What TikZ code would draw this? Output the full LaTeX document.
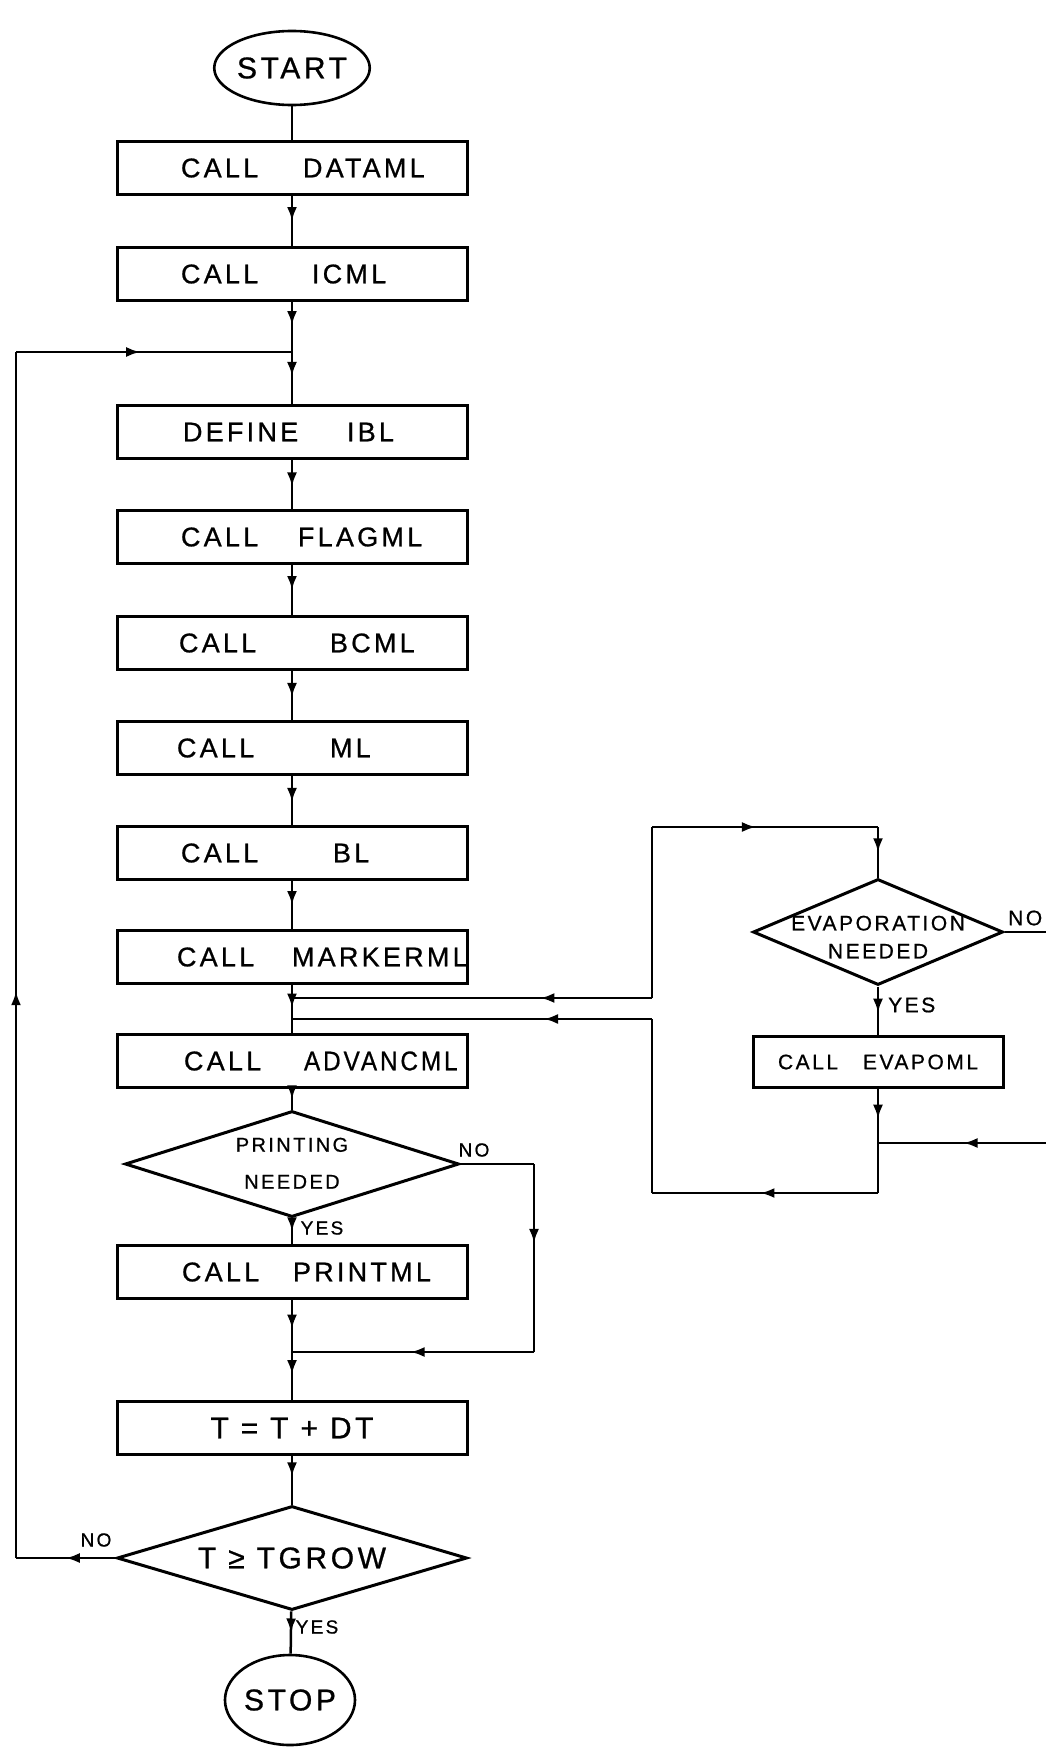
\documentclass[tikz,border=0pt]{standalone}
\usepackage{graphicx}
\usepackage{fontspec}
\setmainfont{Liberation Sans}[LetterSpace=12,FakeBold=0.8]
\usetikzlibrary{shapes.geometric,arrows.meta,decorations.markings}

\newcommand\zb[2][0pt]{\makebox[0pt]{\smash{\raisebox{#1}{\begin{tabular}{@{}c@{}}#2\end{tabular}}}}}
\newcommand\tw[4]{\makebox[0pt][l]{\hspace{#2}#1}\makebox[0pt][l]{\hspace{#4}#3}}

\tikzset{
  procbox/.style={draw, line width=3pt, minimum width=350pt, minimum height=53pt, inner sep=0pt, font=\fontsize{27}{32}\selectfont},
  decision/.style={draw, diamond, line width=3pt, inner sep=0pt},
  termnode/.style={draw, ellipse, line width=2.6pt, inner sep=0pt, font=\fontsize{30}{36}\selectfont},
  wire/.style={line width=2.5pt},
  lbl/.style={font=\fontsize{19}{21}\selectfont, inner sep=0pt},
  arr/.style={postaction={decorate,decoration={markings,mark=at position #1 with {\arrow{Latex[length=14pt,width=10pt]}}}}}
}

\begin{document}
\begin{tikzpicture}[x=1pt,y=-1pt]
\useasboundingbox (0,0) rectangle (1045,1748);
\fill[white] (0,0) rectangle (1045,1748);

% main column
\node[termnode, minimum width=124pt, minimum height=74pt] (start) at (292,68) {START};
\node[procbox] (dataml) at (292,168) {\tw{CALL}{-111pt}{DATAML}{11pt}};
\node[procbox] (icml) at (292,274) {\tw{CALL}{-111pt}{ICML}{20pt}};
\coordinate (j0) at (292,352);
\node[procbox] (ibl) at (292,432) {\tw{DEFINE}{-109pt}{IBL}{55pt}};
\node[procbox] (flagml) at (292,537) {\tw{CALL}{-111pt}{FLAGML}{6pt}};
\node[procbox] (bcml) at (292,643) {\tw{CALL}{-113pt}{BCML}{38pt}};
\node[procbox] (ml) at (292,748) {\tw{CALL}{-115pt}{ML}{38pt}};
\node[procbox] (bl) at (292,853) {\tw{CALL}{-111pt}{BL}{41pt}};
\node[procbox] (marker) at (292,957) {\tw{CALL}{-115pt}{MARKERML}{0pt}};
\coordinate (j1) at (292,998);
\coordinate (j2) at (292,1019);
\node[procbox] (advanc) at (292,1061) {\tw{CALL}{-108pt}{\scalebox{0.9}[1]{ADVANCML}}{12pt}};
\node[decision, minimum width=334pt, minimum height=106pt, aspect=3.15, font=\fontsize{20}{37}\selectfont] (print) at (292,1164) {\zb[-4pt]{PRINTING\\NEEDED}};
\node[procbox] (printml) at (292,1272) {\tw{CALL}{-110pt}{PRINTML}{1pt}};
\coordinate (j3) at (292,1352);
\coordinate (pn1) at (534,1164);
\coordinate (pn2) at (534,1352);
\node[procbox, font=\fontsize{30}{36}\selectfont] (tdt) at (292,1428) {T = T + DT};
\node[decision, minimum width=350pt, minimum height=104pt, aspect=3.37, font=\fontsize{30}{36}\selectfont] (tgrow) at (292,1558) {T ≥ TGROW};
\coordinate (tn1) at (16,1558);
\coordinate (tn2) at (16,352);
\node[termnode, minimum width=128pt, minimum height=90pt] (stop) at (290,1700) {STOP};

% evaporation loop
\coordinate (e1) at (652,998);
\coordinate (e2) at (652,827);
\coordinate (e3) at (878,827);
\node[decision, minimum width=250pt, minimum height=106pt, aspect=2.36, font=\fontsize{21}{28}\selectfont] (evap) at (878,932) {\zb[-12pt]{EVAPORATION\\NEEDED}};
\coordinate (en1) at (1060,932);
\node[procbox, minimum width=250pt, minimum height=51pt, font=\fontsize{21}{25}\selectfont] (evapo) at (878,1062) {\tw{CALL}{-100pt}{EVAPOML}{-15pt}};
\coordinate (r0) at (1060,1143);
\coordinate (r1) at (878,1143);
\coordinate (r2) at (878,1193);
\coordinate (r3) at (652,1193);
\coordinate (r4) at (652,1019);

% labels
\node[lbl] (noP) at (474,1150) {NO};
\node[lbl] (yesP) at (322,1228) {YES};
\node[lbl] (noT) at (96,1540) {NO};
\node[lbl] (yesT) at (317,1627) {YES};
\node[lbl, font=\fontsize{21}{25}\selectfont, anchor=west] (yesE) at (888,1005) {YES};
\node[lbl, font=\fontsize{21}{25}\selectfont, anchor=west] (noE) at (1008,918) {NO};

% connectors
\draw[wire] (start) -- (dataml);
\draw[wire, arr=0.5] (dataml) -- (icml);
\draw[wire, arr=0.46] (icml) -- (j0);
\draw[wire, arr=0.46] (j0) -- (ibl);
\draw[wire, arr=0.54] (ibl) -- (flagml);
\draw[wire, arr=0.5] (flagml) -- (bcml);
\draw[wire, arr=0.53] (bcml) -- (ml);
\draw[wire, arr=0.53] (ml) -- (bl);
\draw[wire, arr=0.5] (bl) -- (marker);
\draw[wire, arr=0.47] (marker) -- (advanc);
\draw[wire, arr=0.5] (advanc) -- (print);
\draw[wire, arr=0.5] (print) -- (printml);
\draw[wire, arr=0.55] (printml) -- (j3);
\draw[wire, arr=0.46] (j3) -- (tdt);
\draw[wire, arr=0.42] (tdt) -- (tgrow);
\draw[wire, arr=0.5] (tgrow) -- (stop);

\draw[wire] (print.east) -- (pn1);
\draw[wire, arr=0.42] (pn1) -- (pn2);
\draw[wire, arr=0.51] (pn2) -- (j3);

\draw[wire, arr=0.5] (tgrow.west) -- (tn1);
\draw[wire, arr=0.47] (tn1) -- (tn2);
\draw[wire, arr=0.45] (tn2) -- (j0);

\draw[wire, arr=0.31] (e1) -- (j1);
\draw[wire] (e1) -- (e2);
\draw[wire, arr=0.46] (e2) -- (e3);
\draw[wire, arr=0.5] (e3) -- (evap);
\draw[wire] (evap.east) -- (en1);
\draw[wire, arr=0.54] (evap) -- (evapo);
\draw[wire, arr=0.55] (evapo) -- (r1);
\draw[wire, arr=0.53] (r0) -- (r1);
\draw[wire] (r1) -- (r2);
\draw[wire, arr=0.52] (r2) -- (r3);
\draw[wire] (r3) -- (r4);
\draw[wire, arr=0.3] (r4) -- (j2);
\end{tikzpicture}
\end{document}
